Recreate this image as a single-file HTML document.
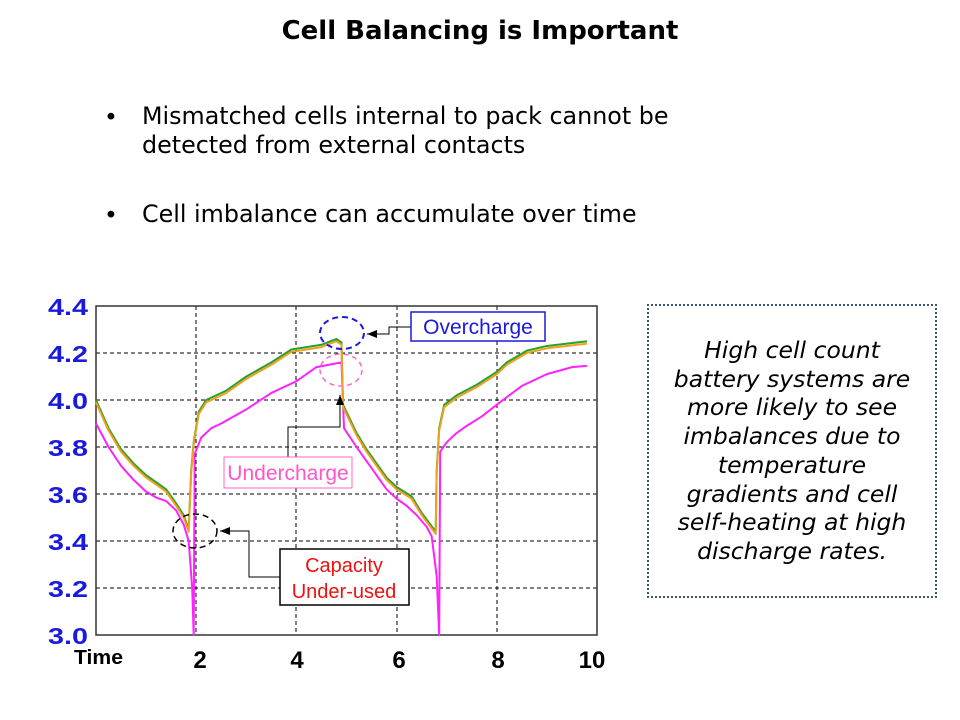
<!DOCTYPE html>
<html><head><meta charset="utf-8"><style>
body{margin:0;width:960px;height:720px;background:#fff;overflow:hidden;position:relative;font-family:"DejaVu Sans",sans-serif}
.t{position:absolute;white-space:nowrap}
</style></head><body>
<div class="t" style="left:0;width:960px;top:16px;text-align:center;font-weight:bold;font-size:26px">Cell Balancing is Important</div>
<div class="t" style="left:104px;top:103px;font-size:23.5px">•</div>
<div class="t" style="left:142px;top:102px;font-size:23.8px;line-height:29px">Mismatched cells internal to pack cannot be<br>detected from external contacts</div>
<div class="t" style="left:104px;top:201px;font-size:23.5px">•</div>
<div class="t" style="left:142px;top:200px;font-size:23.8px">Cell imbalance can accumulate over time</div>
<div style="position:absolute;left:647px;top:304px;width:286px;height:290px;border:2px dotted #3a5578"></div>
<div class="t" style="left:647px;top:336px;width:290px;text-align:center;font-style:italic;font-size:23.5px;line-height:28.7px">High cell count<br>battery systems are<br>more likely to see<br>imbalances due to<br>temperature<br>gradients and cell<br>self-heating at high<br>discharge rates.</div>
<svg width="960" height="720" style="position:absolute;left:0;top:0" font-family="'Liberation Sans',sans-serif">
<defs><marker id="ar" markerWidth="10" markerHeight="8" refX="10" refY="4" orient="auto"><path d="M0,0 L10,4 L0,8z" fill="#000"/></marker></defs>
<g stroke="#000" stroke-width="1" stroke-dasharray="4,3">
<line x1="196" y1="306" x2="196" y2="635"/><line x1="296" y1="306" x2="296" y2="635"/><line x1="397" y1="306" x2="397" y2="635"/><line x1="497" y1="306" x2="497" y2="635"/>
<line x1="96" y1="353" x2="597" y2="353"/><line x1="96" y1="400" x2="597" y2="400"/><line x1="96" y1="447" x2="597" y2="447"/><line x1="96" y1="494" x2="597" y2="494"/><line x1="96" y1="541" x2="597" y2="541"/><line x1="96" y1="588" x2="597" y2="588"/>
</g>
<rect x="96" y="306" width="501" height="329" fill="none" stroke="#333" stroke-width="1.5"/>
<g transform="translate(96,635) scale(50.1,-235)" fill="none" stroke-width="2" stroke-linejoin="round">
<polyline vector-effect="non-scaling-stroke" stroke="#ff22ff" points="0,0.9 0.25,0.8 0.5,0.72 0.75,0.66 1,0.61 1.2,0.585 1.4,0.57 1.6,0.53 1.75,0.47 1.85,0.4 1.92,0.2 1.95,0 1.97,0.77 2.1,0.84 2.3,0.88 2.5,0.9 3,0.96 3.5,1.03 4,1.08 4.2,1.11 4.4,1.14 4.9,1.16 4.95,0.88 5.2,0.8 5.4,0.74 5.6,0.68 5.8,0.62 6,0.58 6.2,0.55 6.4,0.51 6.6,0.46 6.7,0.42 6.8,0.25 6.85,0 6.87,0.78 7,0.82 7.2,0.86 7.4,0.89 7.7,0.93 8,0.98 8.5,1.06 9,1.11 9.5,1.14 9.8,1.145"/>
<polyline vector-effect="non-scaling-stroke" stroke="#2ca02c" points="0,1.0 0.25,0.88 0.5,0.79 0.75,0.73 1,0.68 1.2,0.65 1.4,0.62 1.6,0.56 1.75,0.51 1.85,0.45 1.9,0.7 1.95,0.82 2.05,0.95 2.2,1.0 2.6,1.04 3,1.1 3.5,1.16 3.9,1.215 4.2,1.225 4.5,1.235 4.8,1.26 4.9,1.245 4.93,0.98 5.2,0.86 5.4,0.79 5.6,0.73 5.8,0.67 6,0.63 6.3,0.59 6.5,0.52 6.78,0.44 6.8,0.7 6.85,0.88 6.95,0.98 7.2,1.02 7.6,1.065 8,1.12 8.2,1.16 8.6,1.21 9,1.23 9.8,1.25"/>
<polyline vector-effect="non-scaling-stroke" stroke="#f0a020" points="0,0.99 0.25,0.87 0.5,0.78 0.75,0.72 1,0.67 1.2,0.64 1.4,0.61 1.6,0.55 1.75,0.5 1.85,0.44 1.9,0.69 1.95,0.81 2.05,0.94 2.2,0.99 2.6,1.03 3,1.09 3.5,1.15 3.9,1.205 4.2,1.215 4.5,1.225 4.8,1.25 4.9,1.235 4.93,0.97 5.2,0.85 5.4,0.78 5.6,0.72 5.8,0.66 6,0.62 6.3,0.58 6.5,0.51 6.78,0.43 6.8,0.69 6.85,0.87 6.95,0.97 7.2,1.01 7.6,1.055 8,1.11 8.2,1.15 8.6,1.2 9,1.22 9.8,1.24"/>
</g>
<g font-weight="bold" font-size="23" fill="#1a1adc">
<text x="48" y="315" textLength="40" lengthAdjust="spacingAndGlyphs">4.4</text><text x="48" y="362" textLength="40" lengthAdjust="spacingAndGlyphs">4.2</text><text x="48" y="409" textLength="40" lengthAdjust="spacingAndGlyphs">4.0</text><text x="48" y="456" textLength="40" lengthAdjust="spacingAndGlyphs">3.8</text><text x="48" y="503" textLength="40" lengthAdjust="spacingAndGlyphs">3.6</text><text x="48" y="550" textLength="40" lengthAdjust="spacingAndGlyphs">3.4</text><text x="48" y="597" textLength="40" lengthAdjust="spacingAndGlyphs">3.2</text><text x="48" y="644" textLength="40" lengthAdjust="spacingAndGlyphs">3.0</text>
</g>
<g font-weight="bold" font-size="24" fill="#000" text-anchor="middle">
<text x="200" y="668">2</text><text x="297" y="668">4</text><text x="399" y="668">6</text><text x="498" y="668">8</text><text x="592" y="668">10</text>
</g>
<text x="74" y="664" font-weight="bold" font-size="20" textLength="49" lengthAdjust="spacingAndGlyphs">Time</text>
<ellipse cx="342" cy="333" rx="22" ry="16" fill="none" stroke="#1a1adc" stroke-width="2" stroke-dasharray="6,4"/>
<ellipse cx="341" cy="370" rx="21" ry="16" fill="none" stroke="#ff66cc" stroke-width="1.5" stroke-dasharray="5,4"/>
<ellipse cx="195" cy="531" rx="22" ry="17" fill="none" stroke="#000" stroke-width="1.5" stroke-dasharray="6,4"/>
<polyline points="411,327 389,327 389,334 367,334" fill="none" stroke="#000" marker-end="url(#ar)"/>
<polyline points="288,457 288,427 340,427 340,395" fill="none" stroke="#000" marker-end="url(#ar)"/>
<polyline points="280,577 249,577 249,531 220,531" fill="none" stroke="#000" marker-end="url(#ar)"/>
<rect x="411" y="312" width="134" height="29" fill="#fff" stroke="#1a1adc" stroke-width="1.5"/>
<text x="478" y="334" text-anchor="middle" font-size="21" fill="#1a1adc">Overcharge</text>
<rect x="224" y="457" width="128" height="31" fill="#fff" stroke="#ff66cc" stroke-width="1"/>
<text x="288" y="480" text-anchor="middle" font-size="21" fill="#ff55cc">Undercharge</text>
<rect x="280" y="549" width="129" height="56" fill="#fff" stroke="#000" stroke-width="1.5"/>
<text x="344" y="572" text-anchor="middle" font-size="20" fill="#ee1111">Capacity</text>
<text x="344" y="598" text-anchor="middle" font-size="20" fill="#ee1111">Under-used</text>
</svg>
</body></html>
